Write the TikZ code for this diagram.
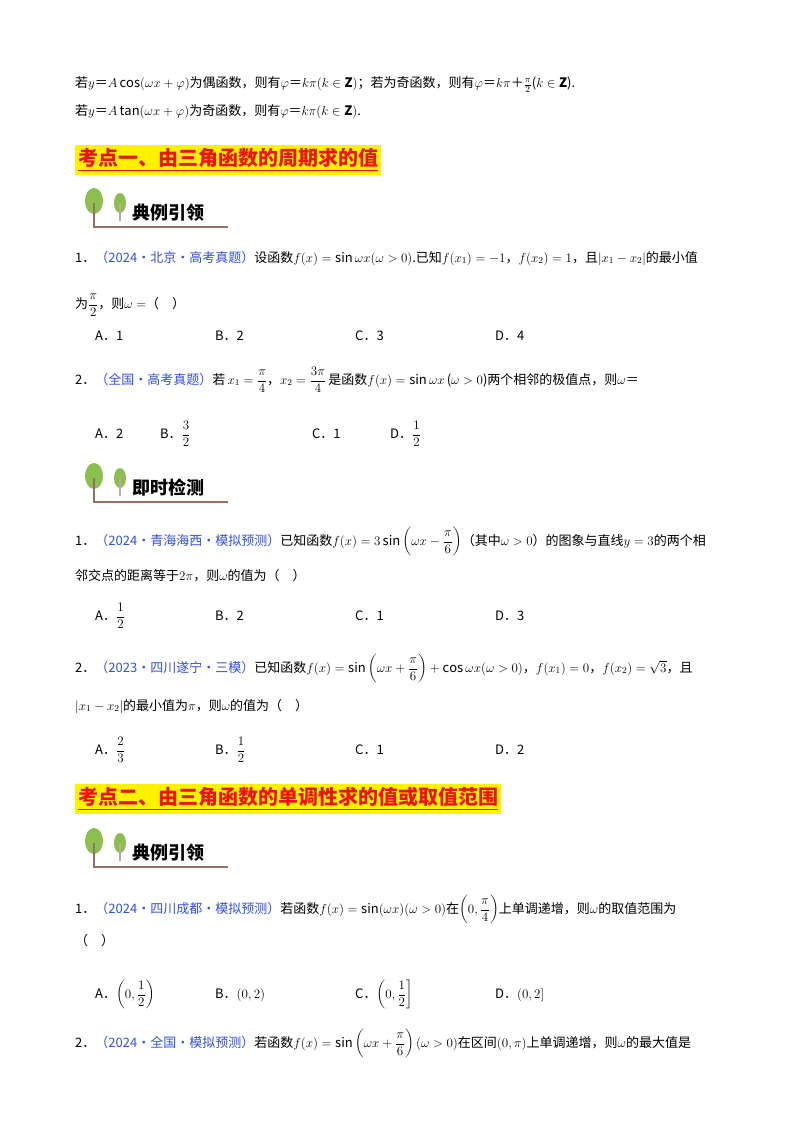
\RequirePackage{fix-cm}
\documentclass[tikz,border=0pt]{standalone}
\usepackage{amsmath}
\usepackage{fontspec}
\setmainfont{Noto Sans CJK SC}
\definecolor{src}{RGB}{50,80,230}
\definecolor{hred}{RGB}{235,20,20}
\definecolor{leaf}{RGB}{140,190,80}
\definecolor{trunk}{RGB}{150,110,100}
\begin{document}
\begin{tikzpicture}[x=1pt,y=-1pt,
  t/.style={anchor=base west,inner sep=0pt,font=\fontsize{13}{15}\selectfont},
  hd/.style={anchor=west,inner sep=3pt,fill=yellow,text=hred,font=\fontsize{20}{22}\selectfont\bfseries},
  ic/.style={anchor=base west,inner sep=0pt,font=\fontsize{18}{20}\selectfont\bfseries}]
\useasboundingbox (0,0) rectangle (800,1134);
\fill[white] (0,0) rectangle (800,1134);
\newcommand{\tree}[3]{%
 \fill[leaf] (#1+16,#2+18) ellipse (9 and 13);
 \fill[leaf] (#1+42,#2+20) ellipse (6 and 10);
 \draw[trunk,line width=1.5pt] (#1+16,#2+20) -- (#1+16,#2+44) -- (#1+150,#2+44);
 \draw[trunk!60,line width=1.2pt] (#1+42,#2+20) -- (#1+42,#2+38);
 \node[ic] (#3) at (#1+54,#2+36) {};}
\node[t] (i1) at (75,88) {若$y$＝$A\cos(\omega x+\varphi)$为偶函数，则有$\varphi$＝$k\pi(k\in\mathbf{Z})$；若为奇函数，则有$\varphi$＝$k\pi$＋$\frac{\pi}{2}$($k\in\mathbf{Z}$).};
\node[t] (i2) at (75,116) {若$y$＝$A\tan(\omega x+\varphi)$为奇函数，则有$\varphi$＝$k\pi(k\in\mathbf{Z})$.};
\node[hd] (h1) at (75,160) {\underline{考点一、由三角函数的周期求的值}};
\tree{78}{183}{k1}
\node[ic] (k1t) at (132,219) {典例引领};
\node[t] (q1a) at (75,262) {1．\textcolor{src}{（2024·北京·高考真题）}设函数$f(x)=\sin\omega x(\omega>0)$.已知$f(x_1)=-1$，$f(x_2)=1$，且$|x_1-x_2|$的最小值};
\node[t] (q1b) at (75,308) {为$\dfrac{\pi}{2}$，则$\omega=$（　）};
\foreach \l/\v/\x in {A/1/95,B/2/215,C/3/355,D/4/495}
  \node[t] (o1\l) at (\x,340) {\l．\v};
\node[t] (q2a) at (75,384) {2．\textcolor{src}{（全国·高考真题）}若\,$x_1=\dfrac{\pi}{4}$，$x_2=\dfrac{3\pi}{4}$\,是函数$f(x)=\sin\omega x$\,($\omega>0$)两个相邻的极值点，则$\omega$＝};
\node[t] (o2A) at (95,438) {A．2};
\node[t] (o2B) at (160,438) {B．$\dfrac{3}{2}$};
\node[t] (o2C) at (312,438) {C．1};
\node[t] (o2D) at (390,438) {D．$\dfrac{1}{2}$};
\tree{78}{458}{k2}
\node[ic] (k2t) at (132,494) {即时检测};
\node[t] (q3a) at (75,545) {1．\textcolor{src}{（2024·青海海西·模拟预测）}已知函数$f(x)=3\sin\left(\omega x-\dfrac{\pi}{6}\right)$（其中$\omega>0$）的图象与直线$y=3$的两个相};
\node[t] (q3b) at (75,580) {邻交点的距离等于$2\pi$，则$\omega$的值为（　）};
\node[t] (o3A) at (95,620) {A．$\dfrac{1}{2}$};
\foreach \l/\v/\x in {B/2/215,C/1/355,D/3/495}
  \node[t] (o3\l) at (\x,620) {\l．\v};
\node[t] (q4a) at (75,672) {2．\textcolor{src}{（2023·四川遂宁·三模）}已知函数$f(x)=\sin\left(\omega x+\dfrac{\pi}{6}\right)+\cos\omega x(\omega>0)$，$f(x_1)=0$，$f(x_2)=\sqrt3$，且};
\node[t] (q4b) at (75,710) {$|x_1-x_2|$的最小值为$\pi$，则$\omega$的值为（　）};
\node[t] (o4A) at (95,754) {A．$\dfrac{2}{3}$};
\node[t] (o4B) at (215,754) {B．$\dfrac{1}{2}$};
\node[t] (o4C) at (355,754) {C．1};
\node[t] (o4D) at (495,754) {D．2};
\node[hd] (h2) at (75,799) {\underline{考点二、由三角函数的单调性求的值或取值范围}};
\tree{78}{823}{k3}
\node[ic] (k3t) at (132,859) {典例引领};
\node[t] (q5a) at (75,913) {1．\textcolor{src}{（2024·四川成都·模拟预测）}若函数$f(x)=\sin(\omega x)(\omega>0)$在$\left(0,\dfrac{\pi}{4}\right)$上单调递增，则$\omega$的取值范围为};
\node[t] (q5b) at (75,945) {（　）};
\node[t] (o5A) at (95,998) {A．$\left(0,\dfrac{1}{2}\right)$};
\node[t] (o5B) at (215,998) {B．$(0,2)$};
\node[t] (o5C) at (355,998) {C．$\left(0,\dfrac{1}{2}\right]$};
\node[t] (o5D) at (495,998) {D．$(0,2]$};
\node[t] (q6a) at (75,1047) {2．\textcolor{src}{（2024·全国·模拟预测）}若函数$f(x)=\sin\left(\omega x+\dfrac{\pi}{6}\right)(\omega>0)$在区间$(0,\pi)$上单调递增，则$\omega$的最大值是};
\end{tikzpicture}
\end{document}
